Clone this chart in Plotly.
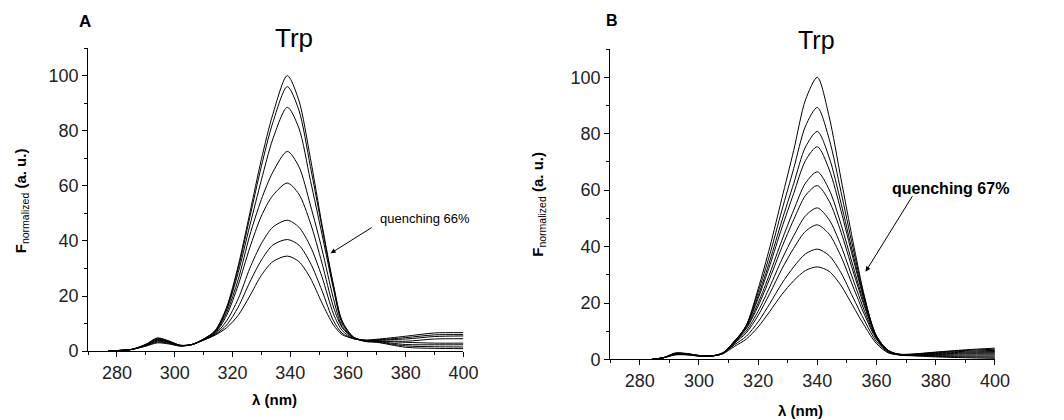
import plotly.graph_objects as go

# ---------------- Panel A data ----------------
wl_a = [277, 280, 285, 290, 294, 298, 302, 306, 310, 314, 318, 322, 326, 330, 334,
        339, 343, 347, 351, 355, 358, 362, 366, 370, 380, 390, 400]
a_100 = [0, 0.2, 0.6, 1.8, 3.0, 2.6, 1.8, 2.4, 4.4, 7.5, 16, 31, 50, 69.5, 86,
         100, 91, 70, 46, 24, 11, 5, 3.5, 3.2, 1.4, 1.0, 0.9]
a_96 = [0, 0.2, 0.6, 1.9, 3.3, 2.8, 1.9, 2.4, 4.4, 7.3, 15.5, 30, 48.5, 67, 83,
        96, 87.5, 67, 45, 23.5, 10.5, 5, 3.6, 3.3, 1.9, 1.6, 1.5]
a_88 = [0, 0.2, 0.6, 2.0, 3.6, 3.0, 2.0, 2.4, 4.3, 7, 15, 28.5, 45.5, 62, 77,
        88.5, 81, 62, 42.5, 22.5, 10, 5, 3.7, 3.5, 2.4, 2.3, 2.3]
a_72 = [0, 0.2, 0.6, 2.1, 3.9, 3.2, 2.0, 2.4, 4.2, 6.8, 14, 26, 42, 55, 65,
        72.5, 67, 53, 37, 19, 9, 5, 3.8, 3.6, 3.2, 2.9, 2.9]
a_61 = [0, 0.2, 0.6, 2.2, 4.1, 3.3, 2.0, 2.4, 4.2, 6.5, 13, 24, 37.5, 49, 56.5,
        61, 57, 46.5, 32, 16, 8.5, 4.8, 3.9, 3.8, 3.6, 4.4, 4.5]
a_47 = [0, 0.2, 0.6, 2.3, 4.3, 3.4, 2.1, 2.4, 4.1, 6.2, 11, 19, 30, 39, 45,
        47.5, 45, 38, 27, 13.5, 7.5, 4.6, 3.9, 4.0, 4.4, 5.3, 5.5]
a_40 = [0, 0.2, 0.6, 2.4, 4.6, 3.6, 2.1, 2.4, 4.0, 6, 9.5, 16, 25, 33, 38.5,
        40.5, 38.5, 32, 22, 11, 6.5, 4.5, 3.9, 4.1, 4.9, 5.9, 6.0]
a_34 = [0, 0.2, 0.6, 2.5, 4.8, 3.7, 2.1, 2.4, 4.0, 5.8, 8.5, 13, 20, 27.5, 32.5,
        34.5, 32.5, 26.5, 17.5, 9.5, 6, 4.5, 4, 4.3, 5.4, 6.6, 6.7]
curves_a = [a_100, a_96, a_88, a_72, a_61, a_47, a_40, a_34]

# ---------------- Panel B data ----------------
wl_b = [284, 288, 292, 296, 300, 304, 308, 312, 316, 320, 324, 328, 332, 336,
        340, 344, 348, 352, 356, 360, 364, 368, 372, 380, 390, 400]
b_100 = [0, 0.6, 1.6, 1.6, 1.2, 1.2, 2.3, 5.5, 12, 25, 40, 57, 74, 92,
         100, 86, 64, 42, 22, 7.5, 2.5, 1.5, 1.3, 0.9, 0.6, 0.4]
b_89 = [0, 0.6, 1.7, 1.7, 1.2, 1.2, 2.3, 6.1, 12.1, 23.8, 37.4, 52.8, 67.6, 82.7,
        89.3, 78.1, 59.4, 39.8, 21.6, 8.0, 2.9, 1.6, 1.4, 1.1, 0.9, 0.8]
b_81 = [0, 0.6, 1.8, 1.7, 1.3, 1.2, 2.3, 6.4, 12.0, 22.5, 35.1, 49.1, 62.3, 75.3,
        80.8, 71.6, 55.4, 37.6, 21.0, 8.3, 3.1, 1.6, 1.5, 1.3, 1.2, 1.2]
b_75 = [0, 0.6, 1.8, 1.8, 1.3, 1.2, 2.2, 6.5, 11.8, 21.6, 33.5, 46.6, 58.8, 70.5,
        75.4, 67.3, 52.7, 36.1, 20.4, 8.3, 3.1, 1.6, 1.5, 1.5, 1.6, 1.6]
b_66 = [0, 0.6, 1.9, 1.8, 1.3, 1.2, 2.2, 6.5, 11.3, 20.0, 30.6, 42.2, 52.9, 62.5,
        66.5, 60.2, 47.9, 33.3, 19.3, 8.1, 3.2, 1.7, 1.6, 1.7, 2.0, 2.0]
b_62 = [0, 0.6, 1.9, 1.9, 1.3, 1.2, 2.2, 6.4, 10.9, 18.9, 28.9, 39.7, 49.5, 58.1,
        61.6, 56.1, 45.1, 31.5, 18.5, 8.0, 3.1, 1.7, 1.6, 1.9, 2.3, 2.4]
b_54 = [0, 0.6, 2.0, 1.9, 1.4, 1.2, 2.1, 6.1, 10.1, 17.1, 25.9, 35.4, 43.8, 50.9,
        53.7, 49.5, 40.3, 28.5, 17.0, 7.5, 3.0, 1.7, 1.7, 2.1, 2.6, 2.8]
b_48 = [0, 0.6, 2.1, 2.0, 1.4, 1.2, 2.1, 5.8, 9.4, 15.6, 23.5, 32.0, 39.4, 45.4,
        47.7, 44.4, 36.5, 26.0, 15.7, 7.1, 2.9, 1.8, 1.8, 2.3, 2.9, 3.2]
b_39 = [0, 0.6, 2.2, 2.0, 1.4, 1.2, 2.0, 5.2, 8.2, 13.3, 19.9, 26.9, 32.8, 37.4,
        39.1, 36.8, 30.7, 22.1, 13.6, 6.3, 2.6, 1.8, 1.8, 2.5, 3.2, 3.6]
b_33 = [0, 0.6, 2.3, 2.1, 1.4, 1.2, 2.0, 4.6, 7.2, 11.5, 17.1, 23.0, 27.9, 31.5,
        32.8, 31.2, 26.2, 19.0, 11.8, 5.6, 2.3, 1.8, 1.9, 2.6, 3.4, 4.0]
curves_b = [b_100, b_89, b_81, b_75, b_66, b_62, b_54, b_48, b_39, b_33]

x_ticks = [280, 300, 320, 340, 360, 380, 400]
y_ticks = [0, 20, 40, 60, 80, 100]

FONT = "Liberation Sans, Arial, sans-serif"
W, H = 1064, 420
SX, SY = 0.985, 0.975  # measured render scale compensation

fig = go.Figure()
for ys in curves_a:
    fig.add_trace(go.Scatter(x=wl_a, y=ys, mode="lines", xaxis="x", yaxis="y",
                             line=dict(color="black", width=1, shape="spline", smoothing=0.8),
                             showlegend=False, hoverinfo="skip"))
for ys in curves_b:
    fig.add_trace(go.Scatter(x=wl_b, y=ys, mode="lines", xaxis="x2", yaxis="y2",
                             line=dict(color="black", width=1, shape="spline", smoothing=0.8),
                             showlegend=False, hoverinfo="skip"))

def ax_style(ticks):
    return dict(showline=True, linecolor="black", linewidth=1, ticks="outside",
                ticklen=5, tickwidth=1, tickcolor="black", showgrid=False,
                zeroline=False, tickmode="array", tickvals=ticks,
                tickfont=dict(family=FONT, size=18, color="#222"),
                minor=dict(ticks="outside", ticklen=3, tickwidth=1, tickcolor="black",
                           tick0=0, dtick=10, showgrid=False))

def px(x):
    return x / (W * SX)

def py(y):
    return 1 - y / (H * SY)

fig.update_layout(
    width=W, height=H, margin=dict(l=0, r=0, t=0, b=0),
    paper_bgcolor="white", plot_bgcolor="white",
    xaxis=dict(domain=[px(88), px(463)], range=[270, 400], anchor="y", **ax_style(x_ticks)),
    yaxis=dict(domain=[py(350.7), py(48)], range=[0, 110], anchor="x", **ax_style(y_ticks)),
    xaxis2=dict(domain=[px(609.6), px(994)], range=[270, 400], anchor="y2", **ax_style(x_ticks)),
    yaxis2=dict(domain=[py(359), py(49)], range=[0, 110], anchor="x2", **ax_style(y_ticks)),
)

ann = []
def txt(x, y, text, size, xanchor="center", angle=0):
    ann.append(dict(x=px(x), y=py(y), xref="paper", yref="paper", text=text,
                    showarrow=False, xanchor=xanchor, yanchor="middle", textangle=angle,
                    font=dict(family=FONT, size=size, color="black")))

txt(85, 21.5, "<b>A</b>", 17)
txt(611.5, 20, "<b>B</b>", 16)
txt(293.5, 38, "Trp", 26)
txt(816, 40, "Trp", 25)
txt(274, 399, "<b>λ (nm)</b>", 15)
txt(800, 410, "<b>λ (nm)</b>", 15)
ytitle = "<b>F</b><sub>normalized</sub><b> (a. u.)</b>"
txt(21, 201, ytitle, 15, angle=-90)
txt(538, 204, ytitle, 15, angle=-90)
txt(378, 218, "quenching 66%", 13, xanchor="left")
txt(889, 188, "<b>quenching 67%</b>", 16, xanchor="left")

ann.append(dict(x=354, y=35.5, xref="x", yref="y", text="", showarrow=True,
                ax=42.6, ay=-26.7, arrowhead=2, arrowsize=1, arrowwidth=1, arrowcolor="black"))
ann.append(dict(x=356.3, y=31.1, xref="x2", yref="y2", text="", showarrow=True,
                ax=47.7, ay=-77, arrowhead=2, arrowsize=1, arrowwidth=1, arrowcolor="black"))
fig.update_layout(annotations=ann)

fig.write_html("out.html")
